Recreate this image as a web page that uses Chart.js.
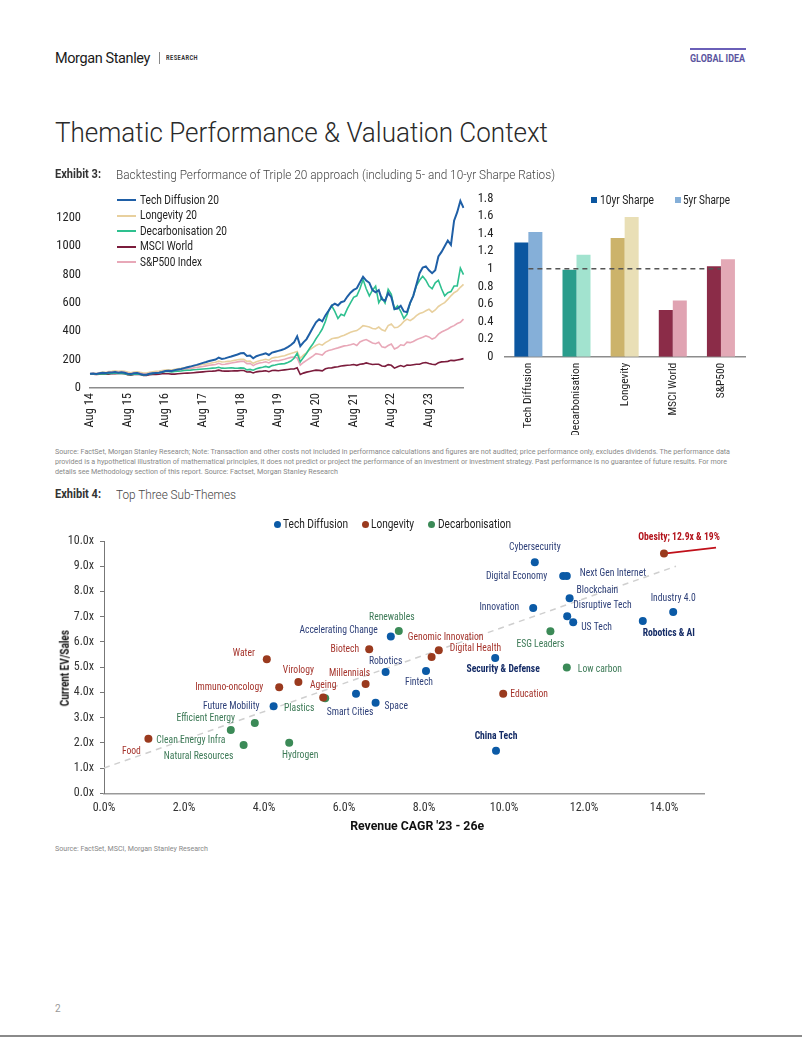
<!DOCTYPE html>
<html>
<head>
<meta charset="utf-8">
<script src="https://cdn.jsdelivr.net/npm/chart.js@4.4.1/dist/chart.umd.min.js"></script>
<style>
body { margin: 0; background: #fff; }
#page { position: relative; width: 802px; height: 1037px; overflow: hidden; font-family: Roboto, sans-serif; color: #222; }
.t { position: absolute; white-space: nowrap; line-height: 1; }
canvas { position: absolute; }
</style>
</head>
<body>
<div id="page">
  <canvas id="lineChart" width="420" height="264" style="left:50px;top:173px"></canvas>
  <canvas id="barChart" width="280" height="255" style="left:470px;top:180px"></canvas>
  <canvas id="scatterChart" width="720" height="335" style="left:55px;top:505px"></canvas>
</div>
<script>
const FONT_C = '"Roboto Condensed","Liberation Sans Narrow","DejaVu Sans Condensed",Roboto,sans-serif'

// ---- Exhibit 3: backtest (monthly, Aug 14 .. Jul 24, rebased to 100)
const monthNames = ["Jan","Feb","Mar","Apr","May","Jun","Jul","Aug","Sep","Oct","Nov","Dec"]
const months = []
for (let i = 0; i < 120; i++) {
  months.push(monthNames[(7 + i) % 12] + " " + (14 + Math.floor((7 + i) / 12)))
}
const lineSeriesNames = ["Tech Diffusion 20", "Longevity 20", "Decarbonisation 20", "MSCI World", "S&P500 Index"]

const techDiffusion = [100,103,99,104,107,105,110,109,113,108,111,107,101,98,104,106,99,94,93,100,104,106,108,113,
  120,122,120,126,130,134,140,146,151,158,163,170,177,183,190,196,201,214,205,209,216,222,229,236,
  245,247,226,229,210,224,232,238,245,233,250,256,262,268,276,289,303,322,365,295,322,345,385,425,
  463,485,470,512,545,580,595,582,605,612,645,672,692,703,745,785,758,742,690,675,690,625,615,670,
  640,556,560,580,540,535,600,650,730,810,850,858,830,810,830,928,960,1000,1040,1010,1180,1240,1320,1270]

const longevity = [100,104,102,108,112,110,116,117,121,118,120,117,112,108,113,115,110,106,105,111,115,118,120,123,
  126,128,127,132,136,139,143,147,150,154,158,162,166,169,173,178,181,190,183,185,188,191,195,199,
  202,203,188,190,174,185,192,197,203,196,212,216,219,224,228,236,244,250,258,210,232,250,270,285,
  300,310,302,320,332,347,352,355,365,372,383,393,400,405,420,440,436,430,420,416,430,410,402,440,
  451,425,428,445,470,486,475,490,510,525,532,545,556,535,550,575,590,602,625,650,672,685,710,731]

const decarbonisation = [100,101,97,99,101,99,104,103,106,102,104,100,96,94,97,99,95,92,93,99,103,105,108,112,
  116,117,114,116,118,120,123,125,126,129,130,132,134,136,138,140,141,146,140,139,141,143,140,139,
  142,140,128,131,125,135,142,146,152,146,158,162,168,170,172,180,190,210,245,185,215,245,280,310,
  347,380,416,470,540,580,540,490,520,510,560,600,640,650,700,765,700,650,690,719,602,640,600,696,
  660,556,580,540,490,520,600,650,720,760,788,760,719,700,742,760,700,650,672,680,719,720,846,800]

const msciWorld = [100,98,96,97,99,97,98,102,101,103,102,101,94,91,96,97,95,89,88,93,95,96,97,100,
  100,100,98,98,100,102,104,105,106,108,110,112,114,116,118,119,121,126,121,119,119,120,121,121,
  123,123,113,114,106,114,117,119,122,115,123,124,122,125,128,131,134,134,142,95,105,112,117,122,
  126,124,121,136,141,142,147,150,155,158,160,162,166,160,168,170,177,171,166,168,167,155,153,165,
  160,140,150,158,150,162,160,164,168,168,176,180,173,168,165,178,184,185,188,195,193,198,202,207]

const sp500 = [100,103,101,105,108,107,111,110,113,110,112,110,104,101,107,108,104,99,98,104,107,109,110,114,
  117,118,117,121,125,128,132,135,138,142,145,149,152,156,160,163,166,174,166,168,172,176,180,184,
  188,188,172,174,158,170,176,180,185,177,190,194,192,198,203,210,216,219,212,161,180,195,210,225,
  242,238,232,255,265,270,277,283,290,297,300,305,312,300,325,335,342,330,318,312,322,290,285,300,
  310,275,285,305,300,323,320,328,340,350,358,368,360,345,355,380,395,405,416,430,440,455,463,486]

const lineColors = ["#1f5fa6", "#e8d09e", "#2ec08f", "#7b1c3c", "#e8a8b8"]

// ---- Exhibit 3: Sharpe ratios
const sharpeCats = ["Tech Diffusion", "Decarbonisation", "Longevity", "MSCI World", "S&P500"]
const sharpe10yr = [1.30, 0.99, 1.35, 0.53, 1.03]
const sharpe5yr = [1.42, 1.16, 1.59, 0.64, 1.11]
const sharpeRef = [1, 1, 1, 1, 1]
const colors10yr = ["#0b56a0", "#2a9d8c", "#ccb36b", "#8b2c48", "#8b2c48"]
const colors5yr = ["#85afd8", "#a2e3cf", "#e9dfb6", "#e0a3b2", "#e3a9b6"]

// ---- Exhibit 4: sub-themes (x = revenue CAGR %, y = EV/Sales)
const techNames = ["Cybersecurity","Digital Economy","Next Gen Internet","Blockchain","Disruptive Tech","US Tech","Innovation",
  "Industry 4.0","Robotics & AI","Accelerating Change","Robotics","Fintech","Security & Defense","Smart Cities","Space","Future Mobility","China Tech"]
const techX = [10.77, 11.48, 11.57, 11.64, 11.58, 11.73, 10.73, 14.23, 13.47, 7.17, 7.04, 8.05, 9.78, 6.30, 6.79, 4.24, 9.80]
const techY = [9.16, 8.61, 8.61, 7.73, 7.02, 6.78, 7.34, 7.19, 6.83, 6.21, 4.81, 4.85, 5.36, 3.95, 3.59, 3.45, 1.69]

const longNames = ["Obesity; 12.9x & 19%","Digital Health","Genomic Innovation","Biotech","Water","Virology","Millennials",
  "Immuno-oncology","Ageing","Education","Food"]
const longX = [14.0, 8.37, 8.19, 6.63, 4.07, 4.86, 6.54, 4.38, 5.48, 9.98, 1.11]
const longY = [9.5, 5.67, 5.40, 5.71, 5.31, 4.41, 4.33, 4.20, 3.80, 3.95, 2.16]

const decarbNames = ["Renewables","ESG Leaders","Low carbon","Plastics","Efficient Energy","Clean Energy Infra","Natural Resources","Hydrogen"]
const decarbX = [7.37, 11.16, 11.57, 5.53, 3.77, 3.17, 3.49, 4.63]
const decarbY = [6.43, 6.42, 4.99, 3.77, 2.79, 2.51, 1.91, 2.00]

const trendX = [0, 14.3]
const trendY = [1.0, 9.0]
const obesityArrowX = [14.0, 15.3]
const obesityArrowY = [9.5, 9.74]

// label placement next to each dot: [dx, dy, align]
const labelPos = {
  "Cybersecurity": [0, -15, "center"], "Digital Economy": [-16, 0, "right"], "Next Gen Internet": [13, -3, "left"],
  "Blockchain": [7, -8, "left"], "Disruptive Tech": [6, -11, "left"], "US Tech": [8, 5, "left"],
  "Innovation": [-14, -1, "right"], "Industry 4.0": [0, -14, "center"], "Robotics & AI": [26, 12, "center"],
  "Accelerating Change": [-13, -6, "right"], "Robotics": [0, -11, "center"], "Fintech": [-7, 11, "center"],
  "Security & Defense": [8, 11, "center"], "Smart Cities": [-6, 18, "center"], "Space": [9, 3, "left"],
  "Future Mobility": [-14, 0, "right"], "China Tech": [0, -15, "center"],
  "Obesity; 12.9x & 19%": [15, -16, "center"], "Digital Health": [11, -2, "left"], "Genomic Innovation": [14, -20, "center"],
  "Biotech": [-10, 0, "right"], "Water": [-23, -6, "center"], "Virology": [0, -12, "center"],
  "Millennials": [-16, -11, "center"], "Immuno-oncology": [-16, 0, "right"], "Ageing": [0, -12, "center"],
  "Education": [7, 0, "left"], "Food": [-17, 12, "center"],
  "Renewables": [-7, -14, "center"], "ESG Leaders": [-10, 13, "center"], "Low carbon": [11, 2, "left"],
  "Plastics": [-26, 10, "center"], "Efficient Energy": [-49, -5, "center"], "Clean Energy Infra": [-40, 10, "center"],
  "Natural Resources": [-45, 11, "center"], "Hydrogen": [11, 12, "center"]
}
const boldLabels = ["Robotics & AI", "Security & Defense", "China Tech", "Obesity; 12.9x & 19%"]

// ---------- page text ----------
const page = document.getElementById("page")

function txt(s, x, cy, w, css, anchor, rotate) {
  const d = document.createElement("div")
  d.className = "t"
  d.textContent = s
  d.style.cssText += css
  page.appendChild(d)
  const r = d.getBoundingClientRect()
  const k = w ? w / r.width : 1
  let left = x
  if (anchor === "c") left = x - r.width / 2
  d.style.left = left + "px"
  d.style.top = (cy - r.height / 2) + "px"
  d.style.transformOrigin = anchor === "c" ? "50% 50%" : "0 50%"
  d.style.transform = (rotate ? "rotate(" + rotate + "deg) " : "") + "scaleX(" + k + ")"
  return d
}
function box(x, y, w, h, bg, radius) {
  const d = document.createElement("div")
  d.style.cssText = `position:absolute;left:${x}px;top:${y}px;width:${w}px;height:${h}px;background:${bg};border-radius:${radius || 0}px`
  page.appendChild(d)
}

txt("Morgan Stanley", 55, 58, 95, "font-size:15px;font-weight:400;letter-spacing:-0.4px;color:#1a1a1a")
box(159, 52, 1, 12, "#888")
txt("RESEARCH", 166, 58, 32, "font-size:6.5px;font-weight:700;letter-spacing:0.5px;color:#333")
box(690, 48, 56, 2, "#6a5fb8")
txt("GLOBAL IDEA", 690, 58.5, 55, "font-size:10px;font-weight:700;color:#5b55a0")
txt("Thematic Performance & Valuation Context", 55, 133, 493, "font-size:27px;font-weight:300;color:#2a2a2a")

txt("Exhibit 3:", 55, 174, 46, "font-size:12.5px;font-weight:700;color:#333")
txt("Backtesting Performance of Triple 20 approach (including 5- and 10-yr Sharpe Ratios)", 116, 174, 439, "font-size:13px;font-weight:300;color:#444")

const srcCss = "font-size:8px;color:#888"
txt("Source: FactSet, Morgan Stanley Research; Note: Transaction and other costs not included in performance calculations and figures are not audited; price performance only, excludes dividends. The performance data", 55, 452, 675, srcCss)
txt("provided is a hypothetical illustration of mathematical principles, it does not predict or project the performance of an investment or investment strategy. Past performance is no guarantee of future results. For more", 55, 462, 672, srcCss)
txt("details see Methodology section of this report. Source: Factset, Morgan Stanley Research", 55, 471.5, 283, srcCss)

txt("Exhibit 4:", 55, 494, 46, "font-size:12.5px;font-weight:700;color:#333")
txt("Top Three Sub-Themes", 116, 494, 120, "font-size:13px;font-weight:300;color:#444")
txt("Source: FactSet, MSCI, Morgan Stanley Research", 55, 849, 153, srcCss)
txt("2", 55, 1009, 0, "font-size:10px;color:#999")
box(0, 1035, 802, 2, "#8a8a8a")

// line chart legend
const legRows = [200, 215.7, 231, 246.7, 262.3]
const legW = [79, 57, 87, 53, 62]
lineSeriesNames.forEach((n, i) => {
  box(117, legRows[i] - 1, 19, 2, lineColors[i])
  txt(n, 140, legRows[i], legW[i], "font-size:12.5px;color:#222")
})
// bar legend
box(591, 197, 6, 6, colors10yr[0])
txt("10yr Sharpe", 600, 200, 54, "font-size:12.5px;color:#222")
box(675, 197, 6, 6, colors5yr[0])
txt("5yr Sharpe", 683, 200, 47, "font-size:12.5px;color:#222")
// scatter legend
box(274, 520.5, 7, 7, "#0b5aa6", 4)
txt("Tech Diffusion", 283, 524, 65, "font-size:12.5px;color:#222")
box(361.5, 520.5, 7, 7, "#9a3a1e", 4)
txt("Longevity", 371, 524, 43, "font-size:12.5px;color:#222")
box(428, 520.5, 7, 7, "#3b8a57", 4)
txt("Decarbonisation", 437.5, 524, 73, "font-size:12.5px;color:#222")
// scatter axis titles
txt("Current EV/Sales", 65, 668, 76, "font-size:12.5px;font-weight:700;color:#111", "c", -90)
txt("Revenue CAGR '23 - 26e", 417, 826, 134, "font-size:12.5px;font-weight:700;color:#111", "c")

// ---------- charts ----------
Chart.defaults.font.family = FONT_C
Chart.defaults.color = "#222"
Chart.defaults.animation = false

new Chart(document.getElementById("lineChart"), {
  type: "line",
  data: {
    labels: months,
    datasets: [techDiffusion, longevity, decarbonisation, msciWorld, sp500].map((d, i) => ({
      label: lineSeriesNames[i],
      data: d,
      borderColor: lineColors[i],
      borderWidth: i === 0 ? 2 : 1.6,
      pointRadius: 0,
      tension: 0,
      order: i === 0 ? 0 : i === 2 ? 1 : 5 - i
    }))
  },
  options: {
    responsive: false,
    layout: { padding: { top: 0, right: 6.5, left: 0, bottom: 0 } },
    plugins: { legend: { display: false }, tooltip: { enabled: false } },
    scales: {
      x: {
        grid: { display: false, drawTicks: false },
        border: { color: "#8c8c8c", width: 1.5 },
        ticks: {
          autoSkip: false, minRotation: 90, maxRotation: 90, padding: 5,
          font: { size: 12.5 },
          callback: (v, i) => (i % 12 === 0 ? months[i] : null)
        },
        afterFit: s => { s.height = 49 }
      },
      y: {
        min: 0, max: 1400,
        grid: { display: false, drawTicks: false },
        border: { display: false },
        ticks: { stepSize: 200, padding: 9, font: { size: 12.5 }, callback: v => (v > 1200 ? "" : v) },
        afterFit: s => { s.width = 40 }
      }
    }
  }
})

new Chart(document.getElementById("barChart"), {
  type: "bar",
  data: {
    labels: sharpeCats,
    datasets: [
      { type: "line", data: sharpeRef, borderColor: "#555", borderWidth: 1.5, borderDash: [5, 4], pointRadius: 0, order: 0 },
      { label: "10yr Sharpe", data: sharpe10yr, backgroundColor: colors10yr, order: 1 },
      { label: "5yr Sharpe", data: sharpe5yr, backgroundColor: colors5yr, order: 1 }
    ]
  },
  options: {
    responsive: false,
    categoryPercentage: 0.582,
    barPercentage: 1,
    layout: { padding: { top: 12.7, right: 5, left: 0, bottom: 0 } },
    plugins: { legend: { display: false }, tooltip: { enabled: false } },
    scales: {
      x: {
        grid: { display: false, drawTicks: false },
        border: { color: "#8c8c8c", width: 1.5 },
        ticks: { autoSkip: false, minRotation: 90, maxRotation: 90, padding: 6, font: { size: 11.5 } },
        afterFit: s => { s.height = 78.3 }
      },
      y: {
        min: 0, max: 1.8,
        grid: { display: false, drawTicks: false },
        border: { display: false },
        ticks: { stepSize: 0.2, autoSkip: false, padding: 11, font: { size: 12.5 }, callback: v => String(+v.toFixed(1)) },
        afterFit: s => { s.width = 34.3 }
      }
    }
  }
})

const measure = document.createElement("canvas").getContext("2d")
measure.font = "11.5px " + FONT_C
const squeeze = Math.min(1, 51.7 / measure.measureText("Cybersecurity").width)

const pointLabels = {
  id: "pointLabels",
  afterDatasetsDraw(chart) {
    const ctx = chart.ctx
    chart.data.datasets.forEach((ds, di) => {
      if (!ds.names) return
      chart.getDatasetMeta(di).data.forEach((pt, i) => {
        const name = ds.names[i]
        const [dx, dy, align] = labelPos[name]
        const bold = boldLabels.includes(name)
        ctx.save()
        ctx.font = (bold ? "700 " : "400 ") + "11.5px " + FONT_C
        ctx.fillStyle = bold ? ds.boldColor : ds.labelColor
        ctx.textAlign = align
        ctx.textBaseline = "middle"
        ctx.translate(pt.x + dx, pt.y + dy)
        ctx.scale(squeeze, 1)
        ctx.fillText(name, 0, 0)
        ctx.restore()
      })
    })
  }
}

const pts = (xs, ys) => xs.map((x, i) => ({ x: x, y: ys[i] }))

new Chart(document.getElementById("scatterChart"), {
  type: "scatter",
  data: {
    datasets: [
      { data: pts(trendX, trendY), showLine: true, borderColor: "#cfcfcf", borderWidth: 1.5, borderDash: [6, 5], pointRadius: 0, order: 5 },
      { data: pts(obesityArrowX, obesityArrowY), showLine: true, borderColor: "#c0101a", borderWidth: 1.8, clip: false,
        pointRadius: [0, 4], pointStyle: "triangle", rotation: 83, pointBackgroundColor: "#c0101a", pointBorderWidth: 0, order: 4 },
      { label: "Tech Diffusion", data: pts(techX, techY), names: techNames, labelColor: "#2d3f78", boldColor: "#142b66",
        backgroundColor: "#0b5aa6", pointRadius: 4, pointBorderWidth: 0, order: 1 },
      { label: "Longevity", data: pts(longX, longY), names: longNames, labelColor: "#a5342c", boldColor: "#b3141c",
        backgroundColor: "#9a3a1e", pointRadius: 4, pointBorderWidth: 0, order: 1 },
      { label: "Decarbonisation", data: pts(decarbX, decarbY), names: decarbNames, labelColor: "#3d7a57", boldColor: "#3d7a57",
        backgroundColor: "#3b8a57", pointRadius: 4, pointBorderWidth: 0, order: 1 }
    ]
  },
  options: {
    responsive: false,
    layout: { padding: { top: 36, right: 71, left: 0, bottom: 0 } },
    plugins: { legend: { display: false }, tooltip: { enabled: false } },
    scales: {
      x: {
        type: "linear", min: 0, max: 15,
        grid: { display: false, drawTicks: false },
        border: { color: "#999", width: 1.5, dash: [5, 4] },
        ticks: { stepSize: 2, includeBounds: false, padding: 7, color: "#333", font: { size: 12 },
          callback: v => (v % 2 === 0 ? v.toFixed(1) + "%" : "") },
        afterFit: s => { s.height = 46.7 }
      },
      y: {
        min: 0, max: 10,
        grid: { display: true, drawOnChartArea: false, drawTicks: true, tickLength: 4, color: "#777" },
        border: { color: "#777", width: 1, dash: [3, 3] },
        ticks: { stepSize: 1, padding: 6, color: "#333", font: { size: 12 }, callback: v => v.toFixed(1) + "x" },
        afterFit: s => { s.width = 49 }
      }
    }
  },
  plugins: [pointLabels]
})
</script>
</body>
</html>
